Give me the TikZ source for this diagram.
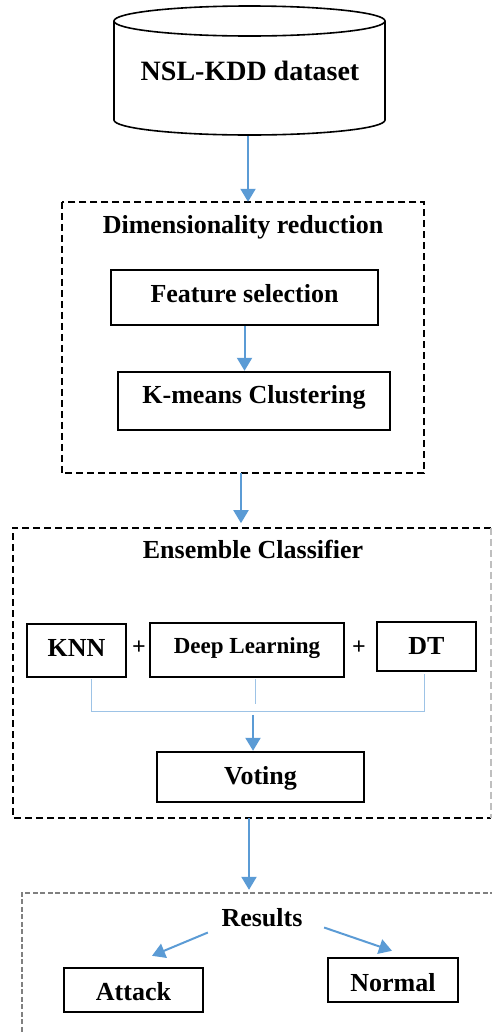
\documentclass[tikz,border=0pt]{standalone}
\usepackage{fontspec}
\setmainfont{Liberation Serif}
\usetikzlibrary{arrows.meta,calc}
\definecolor{arrblue}{HTML}{5B9BD5}
\definecolor{linkblue}{HTML}{9DC3E6}
\begin{document}
\begin{tikzpicture}[x=1pt,y=-1pt,
  every node/.style={font=\fontsize{26}{30}\selectfont\bfseries},
  box/.style={draw=black, line width=2.4pt, inner sep=0pt},
  dbox/.style={draw=none, inner sep=0pt},
  dashline/.style={line width=2pt, dash pattern=on 7pt off 4pt},
  arr/.style={draw=arrblue, line width=2pt, -{Triangle[width=15pt,length=13pt]}},
  link/.style={draw=linkblue, line width=1pt},
  title/.style={anchor=base, inner sep=0pt}]
\useasboundingbox (0,0) rectangle (492,1034);
\clip (0,0) rectangle (492,1034);

% cylinder
\draw[line width=1.6pt] (114,21) -- (114,120) arc[start angle=180, end angle=360, x radius=135.5pt, y radius=15pt] -- (385,21);
\draw[line width=1.6pt] (249.5,21) ellipse [x radius=135.5pt, y radius=15pt];
\node[title, font=\fontsize{28}{32}\selectfont\bfseries] (db) at (250,80) {NSL-KDD dataset};
\coordinate (dbb) at (248,136);

% dimensionality reduction
\node[dbox, minimum width=362pt, minimum height=271pt] (dr) at (243,337.5) {};
\draw[dashline] (dr.north west) rectangle (dr.south east);
\node[title] (drt) at (243,233) {Dimensionality reduction};
\node[box, minimum width=267pt, minimum height=55pt, text height=18pt, text depth=9pt] (fs) at (244.5,297.5) {Feature selection};
\node[box, minimum width=272pt, minimum height=58pt, text height=18pt, text depth=14pt] (km) at (254,401) {K-means Clustering};
\draw[arr] (dbb) -- (dbb |- dr.north);
\draw[arr] (fs.south) -- (fs.south |- km.north);

% ensemble classifier
\node[dbox, minimum width=478pt, minimum height=290pt] (ec) at (252,673) {};
\draw[dashline] (ec.north east) -- (ec.north west) -- (ec.south west) -- (ec.south east);
\draw[dashline, draw=black!25] (ec.north east) -- (ec.south east);
\node[title] (ect) at (253,558) {Ensemble Classifier};
\node[box, minimum width=99pt, minimum height=53pt, text height=18pt, text depth=7pt] (knn) at (76.5,650.5) {KNN};
\node[box, minimum width=194pt, minimum height=54pt, text height=18pt, text depth=12pt, font=\fontsize{23}{27}\selectfont\bfseries] (dl) at (247,650) {Deep Learning};
\node[box, minimum width=99pt, minimum height=49pt, text height=18pt, text depth=3pt] (dt) at (426.5,646.5) {DT};
\node[inner sep=0pt, font=\fontsize{24}{28}\selectfont\bfseries] (p1) at (139,648) {+};
\node[inner sep=0pt, font=\fontsize{24}{28}\selectfont\bfseries] (p2) at (359,648) {+};
\node[box, minimum width=207pt, minimum height=50pt, text height=18pt, text depth=4pt] (vote) at (260.5,777) {Voting};
\draw[link] ($(knn.south)+(14.5,1)$) -- ($(knn.south)+(14.5,33)$) -- ($(dt.south)+(-2.5,39)$) -- ($(dt.south)+(-2.5,2)$);
\draw[link] ($(dl.south)+(8,1)$) -- ($(dl.south)+(8,26)$);
\draw[arr] ($(vote.north)+(-7.5,-36)$) -- ($(vote.north)+(-7.5,0)$);
\draw[arr] ($(dr.south)+(-2,0)$) -- ($(dr.south)+(-2,50)$);

% results
\node[dbox, minimum width=473pt, minimum height=214pt] (rb) at (258.5,1000) {};
\draw[line width=2pt, draw=gray, dash pattern=on 5pt off 2.5pt] (rb.north east) -- (rb.north west) -- (rb.south west);
\draw[arr] ($(ec.south)+(-3,0)$) -- ($(rb.north)+(-9.5,-3)$);
\node[title] (res) at (262,926) {Results};
\node[box, minimum width=139pt, minimum height=44pt, text height=24pt, text depth=4pt] (att) at (133.5,990) {Attack};
\node[box, minimum width=130pt, minimum height=44pt, text height=26pt, text depth=4pt] (nor) at (393,980) {Normal};
\draw[arr] ($(res.south west)+(-13.5,6)$) -- ($(att.north)+(18.5,-11)$);
\draw[arr] ($(res.south east)+(21.5,1)$) -- ($(nor.north)+(-1,-6)$);
\end{tikzpicture}
\end{document}
